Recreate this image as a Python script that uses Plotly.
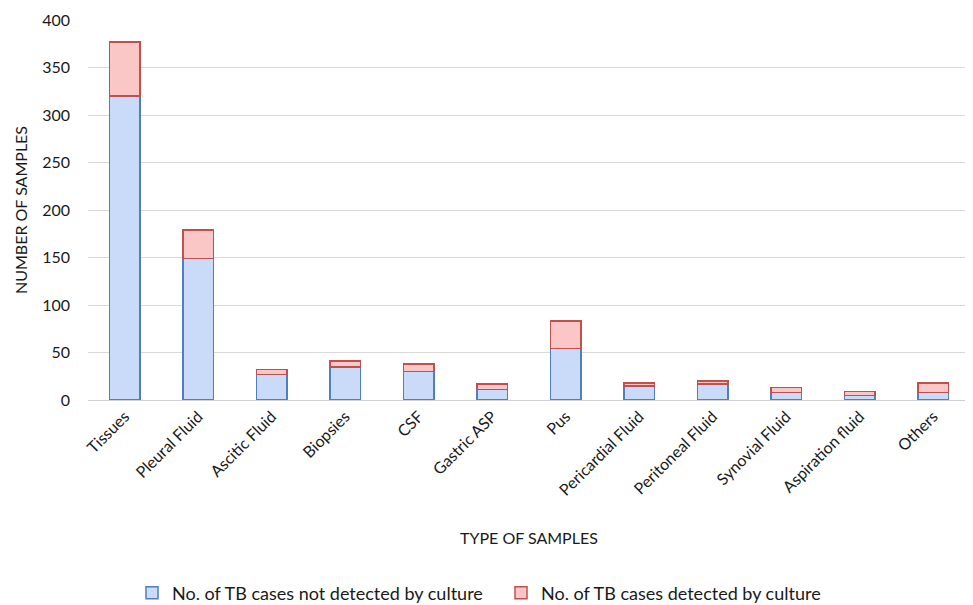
import plotly.graph_objects as go

categories = ["Tissues", "Pleural Fluid", "Ascitic Fluid", "Biopsies", "CSF", "Gastric ASP",
              "Pus", "Pericardial Fluid", "Peritoneal Fluid", "Synovial Fluid",
              "Aspiration fluid", "Others"]
not_detected = [320, 149, 27, 35, 30, 11, 54, 15, 17, 8, 5, 8]
detected = [57, 30, 5, 6, 8, 6, 29, 3, 3, 5, 4, 10]
y_ticks = [0, 50, 100, 150, 200, 250, 300, 350, 400]

FONT = "Lato"

fig = go.Figure()
fig.add_trace(go.Bar(
    x=categories, y=not_detected,
    name="No. of TB cases not detected by culture",
    marker=dict(color="#c9dbf8", line=dict(color="#4f7fbf", width=1.5)),
))
fig.add_trace(go.Bar(
    x=categories, y=detected,
    name="No. of TB cases detected by culture",
    marker=dict(color="#fbc6c6", line=dict(color="#c0504d", width=1.5)),
))

# page body has an 8px margin, so the figure is 8px smaller and margins shifted
fig.update_layout(
    barmode="stack",
    bargap=0.59,
    width=965, height=597,
    margin=dict(l=80, r=3, t=12, b=205, autoexpand=False),
    plot_bgcolor="white", paper_bgcolor="white",
    font=dict(family=FONT, size=16, color="#1a1a1a"),
    showlegend=True,
    legend=dict(orientation="h", x=(132 - 88) / 882, xanchor="left", y=-0.508, yanchor="middle",
                font=dict(size=18), traceorder="normal", entrywidth=324),
    xaxis=dict(tickangle=-45, showgrid=False, showline=True, linecolor="#d0d0d0",
               ticks="", tickfont=dict(size=16), automargin=False),
    yaxis=dict(range=[0, 400], tickvals=y_ticks, showgrid=True, gridcolor="#d9d9d9",
               zeroline=False, showline=False, ticks="", tickfont=dict(size=16),
               ticklabelstandoff=17, automargin=False),
    annotations=[
        dict(text="TYPE OF SAMPLES", x=0.5, y=-0.363, xref="paper", yref="paper",
             showarrow=False, font=dict(size=16), yanchor="middle"),
        dict(text="NUMBER OF SAMPLES", x=-68 / 882, y=0.5, xref="paper", yref="paper",
             showarrow=False, font=dict(size=16), textangle=-90, xanchor="center"),
    ],
)

fig.write_html("out.html")
